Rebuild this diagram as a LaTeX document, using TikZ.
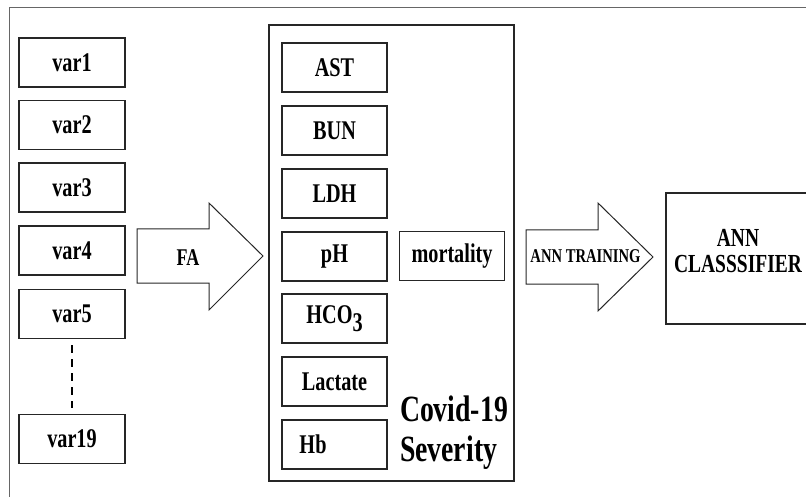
\documentclass[tikz,border=0pt]{standalone}
\usepackage{fontspec}
\setmainfont{Liberation Serif}[FakeStretch=0.75]
\usetikzlibrary{calc}

\tikzset{
	box/.style={draw=black!85, line width=1.2pt, rectangle, inner sep=0pt},
	lbl/.style={font=\bfseries\fontsize{27}{32}\selectfont},
	bigarrow/.style={draw=black!85, line width=1pt, line join=miter}
}

\begin{document}
\begin{tikzpicture}[x=1pt,y=-1pt]
	\useasboundingbox (0,0) rectangle (806,497);
	\draw[black!60, line width=1pt] (9,8) rectangle (820,520);

	\begin{scope}[every node/.style={box, lbl, minimum width=106pt, minimum height=49pt}]
	\node (var1) at (72,62.5) {var1};
	\node (var2) at (72,125) {var2};
	\node (var3) at (72,187.5) {var3};
	\node (var4) at (72,250.5) {var4};
	\node (var5) at (72,314) {var5};
	\node (var19) at (72,439) {var19};
	\end{scope}
	\draw[line width=1.1pt, dash pattern=on 8pt off 6pt, shorten <=6pt, shorten >=6pt] (var5) -- (var19);

	\draw[bigarrow] (137,229) -- (209,229) -- (209,203) -- (263,256) -- (209,310) -- (209,283) -- (137,283) -- cycle;
	\node[font=\bfseries\fontsize{24}{28}\selectfont] (fa) at (188,258) {FA};

	\node[box, minimum width=245pt, minimum height=456pt] (sev) at (391.5,253) {};
	\begin{scope}[every node/.style={box, lbl, minimum width=105pt, minimum height=49pt}]
	\node (ast) at (334.5,67.5) {AST};
	\node (bun) at (334.5,130.5) {BUN};
	\node (ldh) at (334.5,193.5) {LDH};
	\node (ph) at (334.5,256.5) {pH};
	\node (hco) at (334.5,318.5) {HCO\raisebox{-0.3em}{3}};
	\node (lac) at (334.5,381.5) {Lactate};
	\node (hb) at (334.5,444.5) {\hspace*{-43pt}Hb};
	\node (mort) at (452,256) {mortality};
	\end{scope}
	\node[font=\bfseries\fontsize{37}{40}\selectfont, align=left, inner sep=0pt] (sevtxt) at (454,433) {Covid-19\\Severity};

	\draw[bigarrow] (526,230) -- (598,230) -- (598,203) -- (653,257) -- (598,311) -- (598,284) -- (526,284) -- cycle;
	\node[font=\bfseries\fontsize{19.5}{22}\selectfont, inner sep=0pt] (train) at (585.5,256) {ANN TRAINING};

	\node[box, minimum width=144pt, minimum height=131pt] (ann) at (738,258.5) {};
	\node[font=\bfseries\fontsize{26}{26}\selectfont, align=center, inner sep=0pt] (anntxt) at (738,251) {ANN\\CLASSSIFIER};
\end{tikzpicture}
\end{document}
